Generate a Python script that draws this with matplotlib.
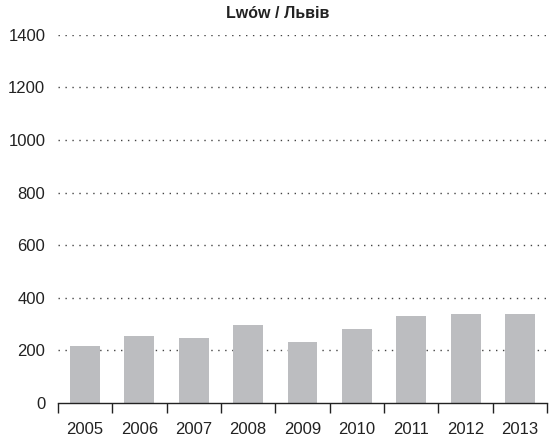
import numpy as np
import matplotlib.pyplot as plt
from matplotlib import font_manager

years = ['2005', '2006', '2007', '2008', '2009', '2010', '2011', '2012', '2013']
values = [217, 255, 247, 297, 232, 281, 331, 338, 338]
y_ticks = [0, 200, 400, 600, 800, 1000, 1200, 1400]

names = {f.name for f in font_manager.fontManager.ttflist}
family = 'Liberation Sans Narrow' if 'Liberation Sans Narrow' in names else 'Liberation Sans'
plt.rcParams['font.family'] = [family, 'DejaVu Sans']

fig = plt.figure(figsize=(5.56, 4.36), dpi=100)
ax = fig.add_axes([0.104, 0.0764, 0.88, 0.8434])

x = np.arange(len(years))
ax.bar(x, values, width=0.55, color='#bcbdc0', zorder=3)

ax.set_xlim(-0.5, len(years) - 0.5)
ax.set_ylim(0, 1400)
ax.set_yticks(y_ticks)
ax.set_yticklabels([str(v) for v in y_ticks], fontsize=12, color='#222222')
ax.tick_params(axis='y', length=0, pad=9)

ax.set_xticks(x)
ax.set_xticklabels(years, fontsize=12, color='#222222')
ax.set_xticks(np.arange(len(years) + 1) - 0.5, minor=True)
ax.tick_params(axis='x', which='major', length=0, pad=14)
ax.tick_params(axis='x', which='minor', length=7, width=1, direction='out', color='#222222')

for v in y_ticks[1:]:
    ax.axhline(v, color='#444444', linestyle=(0, (1, 4)), linewidth=1, zorder=1)

for s in ['left', 'right', 'top']:
    ax.spines[s].set_visible(False)
ax.spines['bottom'].set_color('#222222')
ax.spines['bottom'].set_linewidth(1)
ax.spines['bottom'].set_zorder(4)

fig.text(0.5, 0.968, 'Lwów / Львів', ha='center', va='center', fontsize=11.5,
         fontweight='bold', color='#222222')

fig.savefig('out.png', dpi=100)
